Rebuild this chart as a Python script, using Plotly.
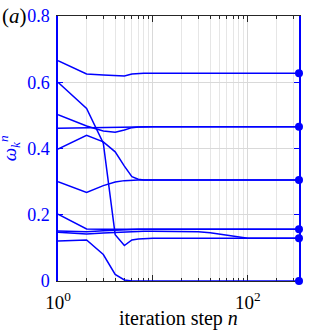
import numpy as np
import plotly.graph_objects as go

# iteration steps where the curves are sampled
n_steps = [1, 2, 3, 4, 5, 6, 7, 8, 10, 15, 20, 30, 40, 50, 60, 70, 80, 100, 345]

# omega_k^n for each k
w_a = [0.665, 0.625, 0.622, 0.620, 0.619, 0.625, 0.627, 0.627, 0.627, 0.627, 0.627, 0.627, 0.627, 0.627, 0.627, 0.627, 0.627, 0.627, 0.627]
w_b = [0.600, 0.521, 0.416, 0.140, 0.107, 0.124, 0.127, 0.128, 0.129, 0.129, 0.129, 0.129, 0.129, 0.129, 0.129, 0.129, 0.129, 0.129, 0.129]
w_c = [0.502, 0.468, 0.453, 0.449, 0.456, 0.463, 0.465, 0.466, 0.466, 0.466, 0.466, 0.466, 0.466, 0.466, 0.466, 0.466, 0.466, 0.466, 0.466]
w_d = [0.461, 0.463, 0.464, 0.465, 0.466, 0.466, 0.466, 0.466, 0.466, 0.466, 0.466, 0.466, 0.466, 0.466, 0.466, 0.466, 0.466, 0.466, 0.466]
w_e = [0.398, 0.440, 0.420, 0.390, 0.347, 0.315, 0.307, 0.305, 0.305, 0.305, 0.305, 0.305, 0.305, 0.305, 0.305, 0.305, 0.305, 0.305, 0.305]
w_f = [0.300, 0.267, 0.288, 0.299, 0.303, 0.305, 0.305, 0.305, 0.305, 0.305, 0.305, 0.305, 0.305, 0.305, 0.305, 0.305, 0.305, 0.305, 0.305]
w_g = [0.202, 0.157, 0.156, 0.156, 0.156, 0.156, 0.156, 0.156, 0.156, 0.156, 0.156, 0.156, 0.156, 0.156, 0.156, 0.156, 0.156, 0.156, 0.156]
w_h = [0.151, 0.149, 0.152, 0.154, 0.155, 0.155, 0.156, 0.156, 0.156, 0.156, 0.156, 0.156, 0.156, 0.156, 0.156, 0.156, 0.156, 0.156, 0.156]
w_i = [0.147, 0.142, 0.145, 0.147, 0.148, 0.149, 0.149, 0.150, 0.150, 0.150, 0.150, 0.149, 0.146, 0.142, 0.138, 0.135, 0.132, 0.129, 0.129]
w_j = [0.121, 0.124, 0.080, 0.020, 0.003, 0.000, 0.000, 0.000, 0.000, 0.000, 0.000, 0.000, 0.000, 0.000, 0.000, 0.000, 0.000, 0.000, 0.000]

# converged values marked at the last step
n_final = 345
w_final = [0.627, 0.466, 0.305, 0.156, 0.129, 0.0]

y_ticks = [0, 0.2, 0.4, 0.6, 0.8]
y_labels = ["0", "0.2", "0.4", "0.6", "0.8"]
x_major = [1, 10, 100]
x_major_labels = ["10<sup>0</sup>", "", "10<sup>2</sup>"]
x_minor = [2, 3, 4, 5, 6, 7, 8, 9, 20, 30, 40, 50, 60, 70, 80, 90, 200, 300]

blue = "#0000ff"
serif = "Liberation Serif"

fig = go.Figure()

for w in [w_a, w_b, w_c, w_d, w_e, w_f, w_g, w_h, w_i, w_j]:
    fig.add_trace(
        go.Scatter(
            x=n_steps,
            y=w,
            mode="lines",
            line=dict(color=blue, width=1.5),
            cliponaxis=False,
            showlegend=False,
        )
    )

fig.add_trace(
    go.Scatter(
        x=[n_final] * len(w_final),
        y=w_final,
        mode="markers",
        marker=dict(color=blue, size=8),
        cliponaxis=False,
        showlegend=False,
    )
)

fig.update_layout(
    width=332,
    height=332,
    margin=dict(l=58, r=33, t=16, b=51),
    paper_bgcolor="white",
    plot_bgcolor="white",
    font=dict(family=serif, size=17, color="black"),
    xaxis=dict(
        type="log",
        range=[0, np.log10(n_final)],
        automargin=False,
        tickmode="array",
        tickvals=x_major,
        ticktext=x_major_labels,
        ticks="inside",
        ticklen=6,
        tickcolor="#262626",
        ticklabelstandoff=4,
        showline=True,
        linecolor="#262626",
        linewidth=1.2,
        mirror="ticks",
        showgrid=True,
        gridcolor="#d9d9d9",
        gridwidth=1,
        zeroline=False,
        layer="below traces",
        tickfont=dict(family=serif, size=19, color="black"),
        minor=dict(
            tickmode="array",
            tickvals=x_minor,
            ticks="inside",
            ticklen=3,
            tickcolor="#262626",
            showgrid=True,
            gridcolor="#e6e6e6",
            gridwidth=1,
        ),
    ),
    yaxis=dict(
        range=[0, 0.8],
        automargin=False,
        tickmode="array",
        tickvals=y_ticks,
        ticktext=y_labels,
        ticks="inside",
        ticklen=5,
        tickcolor=blue,
        ticklabelstandoff=3,
        showline=True,
        linecolor=blue,
        linewidth=1.5,
        mirror="ticks",
        showgrid=True,
        gridcolor="#d9d9d9",
        zeroline=False,
        layer="below traces",
        tickfont=dict(family=serif, size=18, color=blue),
    ),
)

# axis titles and panel letter
fig.add_annotation(
    text="iteration step <i>n</i>",
    xref="paper", yref="paper",
    x=0.5, y=-0.14,
    xanchor="center", yanchor="middle",
    showarrow=False,
    font=dict(family=serif, size=20, color="black"),
)
fig.add_annotation(
    text="<i>ω</i><sub><i>k</i></sub><sup><i>n</i></sup>",
    xref="paper", yref="paper",
    x=-0.2, y=0.5,
    xanchor="center", yanchor="middle",
    textangle=-90,
    showarrow=False,
    font=dict(family=serif, size=19, color=blue),
)
fig.add_annotation(
    text="(<i>a</i>)",
    xref="paper", yref="paper",
    x=-0.24, y=1.0,
    xanchor="left", yanchor="middle",
    showarrow=False,
    font=dict(family=serif, size=21, color="black"),
)

# page margin off so the figure sits at the window corner
fig.write_html(
    "out.html",
    config={"displayModeBar": False},
    post_script="document.body.style.margin='0';",
)
